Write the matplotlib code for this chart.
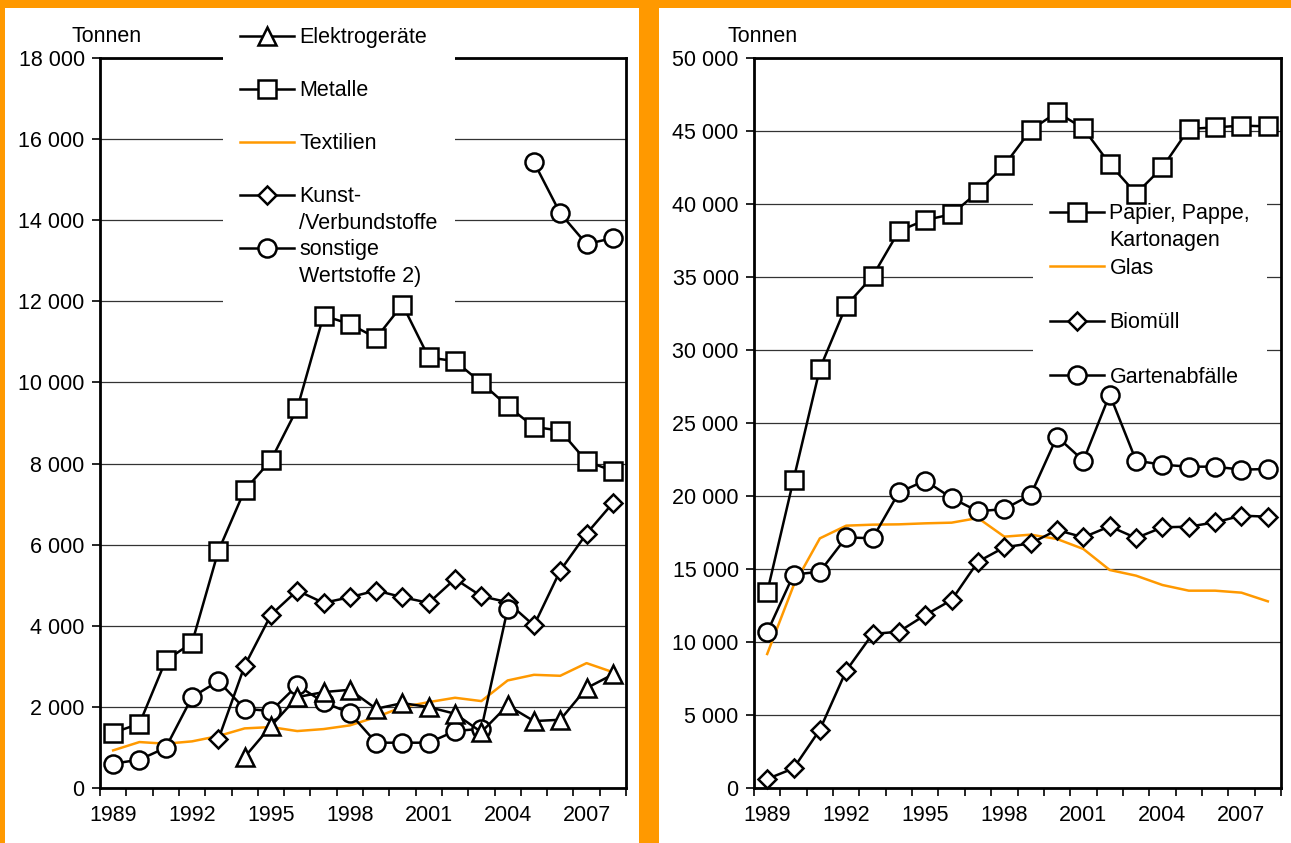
import numpy as np
import matplotlib
matplotlib.use("Agg")
import matplotlib.pyplot as plt
from matplotlib.lines import Line2D
from matplotlib.patches import Rectangle
from matplotlib.ticker import FuncFormatter, MultipleLocator

# ------------------------------ DATA (Tonnen) ------------------------------ #

years = np.arange(1989, 2009)
nan = np.nan

# left panel
elektro = [nan, nan, nan, nan, nan, 764, 1527, 2241, 2365, 2422, 1954, 2094, 1995, 1831, 1379, 2036, 1650, 1683, 2463, 2800]
metalle = [1363, 1585, 3145, 3580, 5844, 7343, 8082, 9359, 11647, 11442, 11097, 11918, 10616, 10525, 9992, 9417, 8907, 8809, 8057, 7819]
textilien = [928, 1133, 1092, 1150, 1281, 1470, 1502, 1404, 1453, 1544, 1749, 1995, 2118, 2225, 2143, 2652, 2791, 2767, 3079, 2857]
kunst = [nan, nan, nan, nan, 1199, 3013, 4269, 4869, 4565, 4704, 4869, 4704, 4565, 5156, 4729, 4581, 4007, 5361, 6271, 7027]
sonstige = [600, 698, 993, 2241, 2635, 1954, 1897, 2529, 2118, 1847, 1117, 1117, 1117, 1404, 1461, 4417, 15429, 14171, 13412, 13559]
# the sonstige line is not joined between 2004 and 2005
sonstige_break = 2005

# right panel
papier = [13402, 21119, 28728, 33037, 35046, 38151, 38904, 39292, 40822, 42648, 45068, 46279, 45183, 42740, 40708, 42511, 45137, 45251, 45365, 45320]
glas = [9178, 13858, 17100, 17968, 18037, 18059, 18128, 18174, 18493, 17215, 17352, 17055, 16370, 14932, 14543, 13904, 13516, 13516, 13379, 12785]
biomuell = [616, 1347, 3995, 8037, 10548, 10708, 11849, 12877, 15502, 16484, 16758, 17671, 17169, 17922, 17123, 17854, 17900, 18196, 18653, 18584]
garten = [10662, 14612, 14817, 17169, 17100, 20251, 21050, 19863, 18950, 19110, 20068, 24064, 22420, 26949, 22420, 22146, 22009, 22009, 21804, 21849]

year_labels = [1989, 1992, 1995, 1998, 2001, 2004, 2007]

# ------------------------------ STYLE ------------------------------ #

ORANGE = "#FF9900"
FS = 15.5
plt.rcParams["font.family"] = ["Liberation Sans", "DejaVu Sans"]
plt.rcParams["font.size"] = FS

W, H = 1291, 843
fig = plt.figure(figsize=(W / 100, H / 100), dpi=100)
fig.patch.set_facecolor(ORANGE)

# white panels on the orange frame
fig.patches.append(Rectangle((5 / W, 0), (639 - 5) / W, (H - 8) / H, transform=fig.transFigure,
                             facecolor="white", edgecolor="none", zorder=-10))
fig.patches.append(Rectangle((659 / W, 0), (W - 659) / W, (H - 8) / H, transform=fig.transFigure,
                             facecolor="white", edgecolor="none", zorder=-10))

ax1 = fig.add_axes([100 / W, 55 / H, 526 / W, 730 / H])
ax2 = fig.add_axes([754 / W, 55 / H, 527 / W, 730 / H])

line_kw = dict(color="black", lw=1.8, markerfacecolor="white", markeredgecolor="black",
               markeredgewidth=1.8)
mk = dict(line_kw, zorder=3, clip_on=False)
sq = dict(marker="s", markersize=13)
tri = dict(marker="^", markersize=13)
dia = dict(marker="D", markersize=9.5)
circ = dict(marker="o", markersize=13)
orange_line = dict(color=ORANGE, lw=1.8, zorder=2.9)


def style_axes(ax, ymax, ystep):
	ax.set_facecolor("none")
	ax.set_xlim(1988.5, 2008.5)
	ax.set_ylim(0, ymax)
	ax.yaxis.set_major_locator(MultipleLocator(ystep))
	ax.yaxis.set_major_formatter(FuncFormatter(lambda v, p: f"{int(v):,}".replace(",", " ")))
	ax.set_xticks(year_labels)
	ax.set_xticks(np.arange(1988.5, 2009.5, 1), minor=True)
	ax.tick_params(axis="x", which="major", length=0, pad=12, labelsize=FS)
	ax.tick_params(axis="x", which="minor", length=6, width=1.2, direction="out")
	ax.tick_params(axis="y", length=6, width=1.2, direction="out", pad=5, labelsize=FS)
	ax.grid(axis="y", color="#333333", lw=0.9)
	ax.set_axisbelow(True)
	for s in ax.spines.values():
		s.set_linewidth(2.0)
		s.set_zorder(2.5)


def legend_kw(x, y, spacing):
	return dict(loc="upper left", bbox_to_anchor=(x / W, (H - y) / H), bbox_transform=fig.transFigure,
	            frameon=True, fancybox=False, edgecolor="none", facecolor="white", framealpha=1,
	            borderpad=0.8, borderaxespad=0, labelspacing=spacing, handlelength=2.5,
	            handletextpad=0.25, fontsize=FS)


blank = Line2D([], [], linestyle="none")

# ------------------------------ LEFT PANEL ------------------------------ #

style_axes(ax1, 18000, 2000)
ax1.plot(years, textilien, **orange_line)
ax1.plot(years, kunst, **mk, **dia)
ax1.plot(years, metalle, **mk, **sq)
cut = years < sonstige_break
ax1.plot(years[cut], np.array(sonstige)[cut], **mk, **circ)
ax1.plot(years[~cut], np.array(sonstige)[~cut], **mk, **circ)
ax1.plot(years, elektro, **mk, **tri)

h_el = Line2D([], [], **line_kw, **tri)
h_me = Line2D([], [], **line_kw, **sq)
h_te = Line2D([], [], color=ORANGE, lw=1.8)
h_ku = Line2D([], [], **line_kw, **dia)
h_so = Line2D([], [], **line_kw, **circ)

leg1 = ax1.legend([h_el, blank, h_me, blank, h_te, blank, h_ku, blank, h_so, blank],
                  ["Elektrogeräte", " ", "Metalle", " ", "Textilien", " ", "Kunst-", "/Verbundstoffe",
                   "sonstige", "Wertstoffe 2)"], **legend_kw(223, 10, 0.255))
leg1.set_zorder(2.6)

fig.text(72 / W, (H - 36) / H, "Tonnen", ha="left", va="center", fontsize=FS)

# ------------------------------ RIGHT PANEL ------------------------------ #

style_axes(ax2, 50000, 5000)
ax2.plot(years, glas, **orange_line)
ax2.plot(years, biomuell, **mk, **dia)
ax2.plot(years, garten, **mk, **circ)
ax2.plot(years, papier, **mk, **sq)

h_pa = Line2D([], [], **line_kw, **sq)
h_gl = Line2D([], [], color=ORANGE, lw=1.8)
h_bi = Line2D([], [], **line_kw, **dia)
h_ga = Line2D([], [], **line_kw, **circ)

leg2 = ax2.legend([h_pa, blank, h_gl, blank, h_bi, blank, h_ga],
                  ["Papier, Pappe,", "Kartonagen", "Glas", " ", "Biomüll", " ", "Gartenabfälle"],
                  **legend_kw(1033, 186, 0.29))
leg2.set_zorder(2.6)

fig.text(728 / W, (H - 36) / H, "Tonnen", ha="left", va="center", fontsize=FS)

fig.savefig("out.png", dpi=100, facecolor=fig.get_facecolor())
